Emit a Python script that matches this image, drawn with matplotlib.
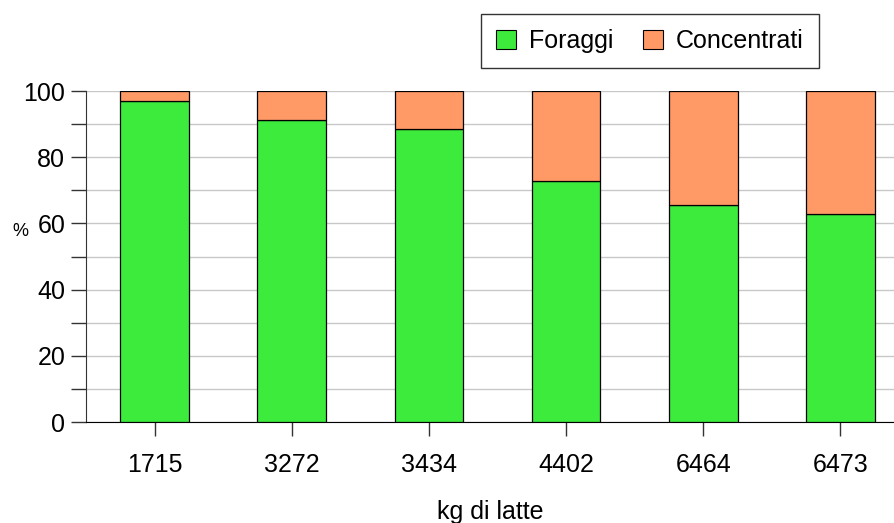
import numpy as np
import matplotlib.pyplot as plt
from matplotlib.patches import Patch

plt.rcParams['font.family'] = ['Liberation Sans', 'DejaVu Sans']

#  Data: share of forage vs concentrate by milk yield
CATEGORIES = ['1715', '3272', '3434', '4402', '6464', '6473']
FORAGGI = [97.1, 91.3, 88.5, 72.9, 65.6, 62.8]
CONCENTRATI = [100 - f for f in FORAGGI]

GREEN = '#3deb3d'
ORANGE = '#ff9966'

FIGURE = plt.figure(figsize=(8.94, 5.23), dpi=100)
AXES = FIGURE.add_axes([0.0962, 0.193, 0.9038, 0.633])

X_POS = np.arange(len(CATEGORIES))
AXES.bar(X_POS, FORAGGI, width=0.5, color=GREEN, edgecolor='black',
         linewidth=0.9, zorder=3)
AXES.bar(X_POS, CONCENTRATI, width=0.5, bottom=FORAGGI, color=ORANGE,
         edgecolor='black', linewidth=0.9, zorder=3)

AXES.set_xlim(-0.5, 5.39)
AXES.set_ylim(0, 100)
AXES.set_xticks(X_POS)
AXES.set_xticklabels(CATEGORIES, fontsize=18)
AXES.set_yticks(np.arange(0, 101, 10))
AXES.set_yticklabels([str(v) if v % 20 == 0 else '' for v in range(0, 101, 10)],
                     fontsize=18)
AXES.tick_params(axis='y', length=11, width=1, color='#333333', pad=4)
AXES.tick_params(axis='x', length=10, width=1, color='#333333', pad=12)
AXES.yaxis.grid(True, color='#c8c8c8', linewidth=1, zorder=0)
AXES.set_axisbelow(True)

for side in ['top', 'right']:
    AXES.spines[side].set_visible(False)
AXES.spines['left'].set_color('#333333')
AXES.spines['bottom'].set_color('black')

AXES.set_xlabel('kg di latte', fontsize=18, labelpad=16.5)
AXES.text(-0.081, 0.575, '%', transform=AXES.transAxes, fontsize=13,
          ha='center', va='center')

HANDLES = [Patch(facecolor=GREEN, edgecolor='black', linewidth=0.8),
           Patch(facecolor=ORANGE, edgecolor='black', linewidth=0.8)]
LEGEND = FIGURE.legend(HANDLES, ['Foraggi', 'Concentrati'], ncol=2,
                       loc='center', bbox_to_anchor=(0.727, 0.922),
                       fontsize=18, frameon=True, fancybox=False,
                       edgecolor='black', handlelength=0.8, handleheight=0.8,
                       handletextpad=0.5, columnspacing=1.2, borderpad=0.6)
LEGEND.get_frame().set_linewidth(1)

plt.savefig('out.png', dpi=100)
